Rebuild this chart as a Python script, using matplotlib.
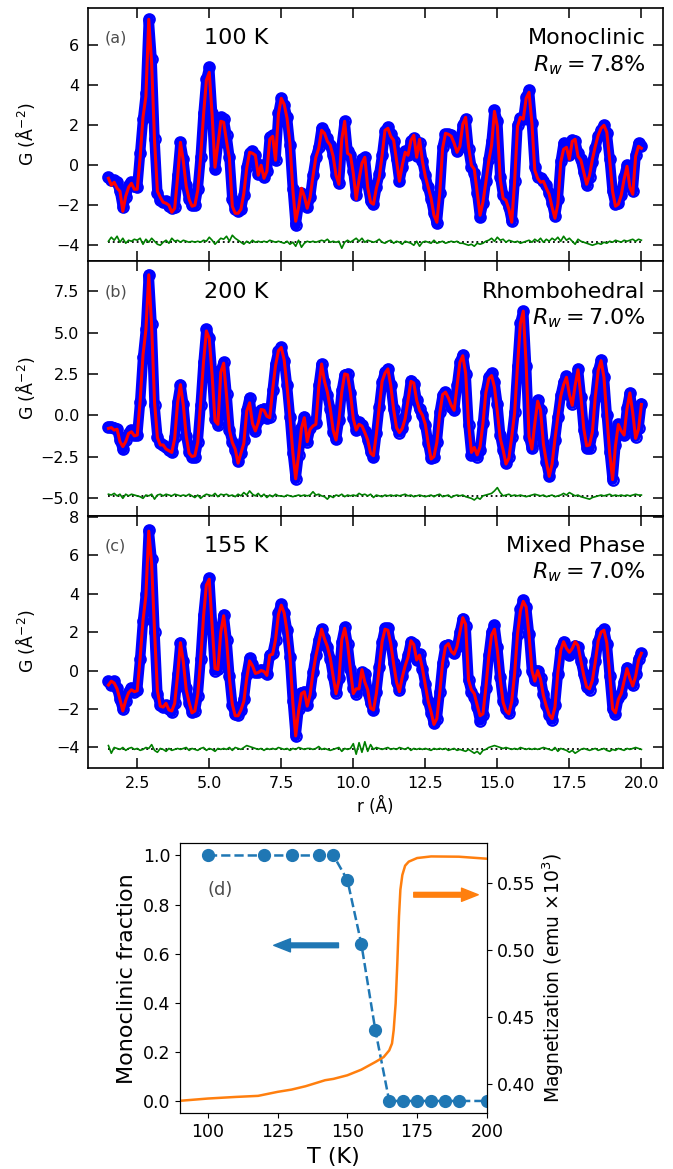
import numpy as np
import matplotlib
matplotlib.use("Agg")
import matplotlib.pyplot as plt

# ---------------------------------------------------------------- PDF data
# r grid (Angstrom), 0.1 A step from 1.5 to 20.0
r = np.round(np.arange(1.5, 20.0001, 0.1), 1)

# observed G(r) at 100 K
g_obs_100K = [
    -0.6, -0.75, -0.75, -0.85, -1.3, -2.1, -1.6, -1.0, -0.85, -1.05,
    -1.1, 0.6, 2.3, 3.6, 7.3, 5.3, 1.3, -1.4, -1.75, -1.85,
    -1.8, -2.05, -2.15, -2.1, -0.5, 1.15, 0.3, -1.0, -1.7, -2.0,
    -2.0, -1.2, 0.4, 2.6, 4.3, 4.9, 2.6, -0.2, 1.1, 2.4,
    2.3, 1.5, 0.4, -1.7, -2.2, -2.3, -2.2, -1.5, -0.1, 0.6,
    0.7, 0.5, -0.45, 0.0, -0.6, -0.3, 1.4, 1.5, 0.25, 2.6,
    3.35, 3.0, 2.4, 1.0, -1.2, -3.0, -2.0, -1.4, -1.6, -2.1,
    -1.6, -0.5, 0.4, 0.9, 1.85, 1.65, 1.35, 1.0, 0.5, -0.5,
    -0.9, 1.0, 2.2, 0.7, 0.5, -0.3, -1.5, -0.65, 0.3, 0.4,
    -1.0, -1.8, -1.95, -1.1, -0.45, 0.5, 1.7, 1.9, 1.55, 1.2,
    0.3, -0.8, -0.1, 0.7, 0.5, 1.2, 1.35, 0.45, 1.1, 0.2,
    -0.5, -1.1, -1.7, -2.4, -2.9, -1.4, 0.9, 1.55, 1.55, 1.5,
    1.1, 0.7, 0.9, 2.0, 2.3, 0.8, -0.1, -0.4, -1.4, -2.6,
    -1.9, -0.8, 0.3, 1.2, 2.75, 2.2, -0.6, -1.5, -1.75, -2.1,
    -2.8, -0.8, 2.0, 2.35, 2.3, 3.4, 3.75, 2.1, -0.1, -0.6,
    -0.65, -0.8, -1.0, -1.4, -1.9, -2.55, -1.7, 0.2, 1.1, 1.0,
    0.5, 1.25, 1.2, 0.6, 0.3, -0.35, -1.0, -0.6, 0.15, 0.85,
    1.45, 1.75, 2.0, 1.6, 0.3, -1.3, -1.95, -1.9, -1.5, -0.6,
    0.0, -1.0, -1.3, 0.5, 1.1, 0.95,
]
# difference G_obs - G_calc at 100 K
diff_100K = [
    0.05, 0.25, 0.1, 0.3, 0.0, 0.2, -0.05, 0.1, 0.05, 0.15,
    0.1, 0.2, -0.1, 0.15, 0.0, 0.2, 0.05, -0.1, -0.15, 0.0,
    0.1, -0.05, 0.2, 0.05, 0.1, 0.0, 0.1, 0.05, 0.0, 0.05,
    0.0, 0.05, 0.0, 0.1, 0.05, 0.25, 0.1, -0.1, 0.05, 0.2,
    0.15, 0.3, 0.05, 0.35, 0.2, 0.1, 0.0, -0.1, 0.05, -0.05,
    0.1, 0.0, 0.05, 0.0, 0.05, 0.0, 0.1, 0.05, 0.0, 0.05,
    0.0, -0.05, 0.05, -0.1, 0.0, -0.2, 0.1, -0.25, -0.05, 0.05,
    0.0, 0.05, 0.0, 0.05, 0.1, 0.05, 0.15, 0.0, 0.05, 0.0,
    0.05, -0.3, 0.0, 0.1, 0.0, 0.1, 0.2, 0.05, 0.2, 0.0,
    0.1, 0.05, 0.0, 0.05, 0.15, 0.0, -0.05, 0.05, 0.1, -0.05,
    0.05, 0.0, -0.1, 0.05, 0.0, -0.05, -0.15, 0.05, -0.2, 0.0,
    0.05, 0.0, -0.05, 0.1, -0.05, 0.0, 0.05, -0.05, 0.0, 0.05,
    0.0, 0.05, -0.05, -0.05, -0.1, -0.15, -0.1, -0.2, -0.05, -0.1,
    -0.05, 0.05, 0.1, 0.2, 0.05, 0.25, 0.1, 0.15, 0.0, 0.1,
    0.05, 0.0, 0.05, -0.05, 0.0, 0.05, 0.1, 0.0, 0.15, 0.05,
    0.2, 0.0, 0.15, 0.05, 0.2, 0.1, 0.25, 0.05, 0.3, 0.1,
    0.2, 0.05, -0.1, 0.15, 0.05, 0.0, -0.05, -0.1, -0.15, -0.1,
    -0.05, -0.1, 0.0, -0.05, 0.05, 0.0, 0.1, 0.05, 0.0, 0.1,
    0.05, 0.1, 0.15, 0.05, 0.15, 0.1,
]

# observed G(r) at 200 K
g_obs_200K = [
    -0.7, -0.7, -0.75, -0.85, -1.5, -2.05, -1.5, -1.1, -0.9, -1.2,
    -1.2, 0.8, 3.5, 5.2, 8.5, 5.5, 0.6, -1.3, -1.7, -1.8,
    -1.95, -2.1, -2.25, -1.3, 0.8, 1.85, 0.65, -1.25, -2.2, -2.5,
    -2.55, -1.6, 0.6, 3.2, 5.2, 4.7, 2.4, -0.2, -0.6, 2.7,
    3.2, 1.3, -0.9, -1.6, -2.1, -2.8, -2.3, -1.5, 0.3, 1.05,
    -0.4, -0.95, -0.3, 0.3, 0.4, -0.16, -0.1, 1.5, 3.1, 3.9,
    4.1, 3.3, 1.8, -0.1, -2.3, -3.85, -2.4, -0.8, -0.1, -1.6,
    -0.8, -0.4, -0.5, 1.8, 3.1, 2.0, 1.2, 0.4, -1.0, -1.45,
    -0.3, 1.5, 2.45, 2.5, 1.35, -0.16, -0.9, -0.4, -0.6, -0.95,
    -1.5, -2.2, -2.55, -1.1, 0.5, 2.0, 2.6, 2.8, 1.85, 0.35,
    -0.7, -1.05, -0.75, -0.1, 0.9, 2.1, 1.9, 0.9, 0.35, 0.0,
    -0.6, -1.7, -2.6, -2.55, -1.6, 0.2, 1.2, 1.4, 1.1, 0.5,
    0.3, 1.8, 3.2, 3.65, 2.5, -0.6, -2.4, -2.2, -2.5, -2.1,
    -0.5, 1.4, 2.3, 2.55, 2.0, 0.7, -1.2, -2.1, -2.9, -2.5,
    -1.3, 0.2, 3.0, 5.6, 6.3, 3.0, -1.3, -2.0, -0.4, 0.9,
    0.3, -1.7, -2.85, -3.7, -2.9, -1.5, -0.1, 1.2, 2.0, 2.35,
    1.45, 0.7, 1.8, 2.8, 1.1, -0.9, -2.0, -2.0, -1.1, 1.05,
    2.7, 3.35, 2.3, 0.0, -2.2, -3.9, -1.8, -0.56, -0.9, -1.2,
    0.44, 1.35, 0.2, -1.3, -0.8, 0.7,
]
diff_200K = [
    0.1, 0.05, 0.15, 0.0, 0.1, -0.15, 0.1, 0.0, 0.1, 0.05,
    0.0, -0.05, -0.15, 0.05, 0.0, 0.1, -0.2, 0.05, 0.1, 0.0,
    0.1, 0.05, 0.0, 0.1, 0.05, 0.0, 0.05, 0.0, 0.1, 0.0,
    -0.1, 0.05, -0.15, 0.0, 0.1, 0.05, 0.0, 0.15, -0.05, 0.1,
    0.05, 0.1, 0.0, 0.05, -0.05, 0.1, 0.0, 0.2, 0.05, 0.3,
    0.1, 0.0, 0.15, -0.05, 0.1, -0.1, 0.05, -0.05, 0.1, 0.0,
    0.0, -0.05, 0.05, 0.0, -0.05, 0.0, 0.05, 0.0, 0.05, 0.0,
    0.05, 0.25, 0.05, 0.1, 0.0, -0.05, -0.2, 0.0, -0.1, 0.05,
    0.0, 0.1, -0.05, 0.05, 0.0, 0.05, 0.0, 0.15, 0.05, 0.1,
    0.0, 0.1, -0.1, 0.05, 0.0, -0.05, 0.05, 0.0, 0.05, 0.0,
    0.05, 0.0, 0.05, 0.1, 0.0, 0.05, -0.05, 0.0, 0.05, 0.0,
    -0.05, 0.0, 0.05, -0.05, 0.05, 0.1, -0.05, 0.0, 0.05, -0.1,
    0.0, 0.05, 0.0, 0.05, -0.05, -0.1, -0.15, -0.25, -0.1, -0.2,
    0.0, 0.05, 0.1, 0.15, 0.3, 0.5, 0.2, 0.0, 0.05, 0.1,
    0.0, 0.05, 0.0, 0.05, 0.0, -0.05, 0.0, 0.05, 0.1, 0.05,
    0.0, 0.05, -0.05, 0.0, 0.05, -0.05, 0.0, 0.05, 0.15, 0.05,
    0.2, 0.1, 0.0, 0.05, -0.05, -0.1, -0.15, -0.2, -0.1, -0.05,
    0.0, 0.05, 0.0, 0.05, 0.1, 0.0, 0.05, 0.0, 0.05, 0.0,
    0.05, 0.0, 0.05, 0.1, 0.05, 0.05,
]

# observed G(r) at 155 K
g_obs_155K = [
    -0.55, -0.75, -0.55, -0.9, -1.5, -2.0, -1.6, -1.1, -0.9, -1.1,
    -1.0, 0.6, 2.6, 4.0, 7.3, 5.8, 2.0, -1.2, -1.8, -1.9,
    -1.8, -2.0, -2.15, -1.7, -0.2, 1.45, 0.5, -0.9, -1.7, -2.15,
    -2.1, -1.3, 0.6, 2.9, 4.4, 4.8, 2.3, 0.0, 0.1, 2.0,
    2.9, 1.6, -0.3, -1.8, -2.25, -2.3, -2.05, -1.5, -0.2, 0.65,
    0.35, -0.1, -0.1, 0.05, -0.1, -0.2, 0.8, 0.9, 1.6, 3.0,
    3.45, 3.0, 2.1, 0.7, -1.6, -3.4, -2.0, -1.15, -1.1, -1.8,
    -1.2, -0.1, 0.8, 1.6, 2.15, 1.7, 1.25, 0.6, -0.3, -1.15,
    -0.4, 1.5, 2.25, 1.4, 0.1, -0.9, -1.2, -0.6, -0.1, -0.2,
    -1.1, -1.7, -2.05, -1.1, 0.2, 1.5, 2.2, 2.2, 1.4, 0.4,
    -0.6, -1.0, -0.3, 0.25, 0.8, 1.5, 1.4, 0.55, 0.85, 0.1,
    -0.7, -1.6, -2.2, -2.75, -2.5, -1.1, 0.4, 1.3, 1.35, 1.0,
    0.9, 1.2, 2.0, 2.7, 2.3, -0.5, -1.1, -1.4, -1.9, -2.6,
    -2.3, -0.9, 0.8, 2.0, 2.35, 1.2, -0.35, -1.6, -2.0, -2.2,
    -1.6, -0.1, 1.9, 3.2, 3.65, 3.3, 1.9, 0.0, -0.5, 0.0,
    -0.4, -1.2, -1.8, -2.3, -2.55, -1.8, -0.2, 1.1, 1.5, 1.1,
    0.8, 1.1, 1.3, 1.2, 0.5, -0.2, -0.85, -1.0, -0.5, 0.5,
    1.5, 2.0, 2.15, 1.4, -0.3, -2.0, -2.25, -1.45, -1.2, -0.6,
    0.15, -0.4, -0.75, -0.2, 0.6, 0.9,
]
diff_155K = [
    0.2, -0.2, 0.1, 0.05, 0.0, 0.1, -0.05, 0.05, 0.1, 0.0,
    0.05, -0.05, 0.0, 0.1, 0.05, 0.25, -0.05, -0.15, 0.05, 0.0,
    -0.1, 0.05, -0.05, 0.0, 0.05, 0.0, 0.05, 0.1, -0.05, 0.05,
    0.0, -0.05, 0.05, 0.1, -0.05, 0.05, 0.0, -0.1, 0.05, 0.0,
    0.05, 0.0, 0.1, -0.05, 0.1, 0.05, 0.0, 0.1, 0.2, 0.15,
    0.1, 0.05, 0.0, 0.05, -0.05, 0.05, 0.0, 0.05, 0.0, 0.1,
    0.05, 0.0, 0.05, -0.05, 0.05, 0.0, 0.1, 0.05, 0.0, 0.05,
    0.05, 0.0, 0.05, 0.15, 0.0, 0.05, 0.0, -0.05, 0.0, 0.05,
    0.1, -0.1, 0.05, 0.0, 0.05, 0.3, -0.25, 0.35, -0.15, 0.4,
    -0.1, 0.25, 0.0, 0.1, 0.05, 0.0, 0.05, 0.1, 0.0, 0.05,
    0.0, 0.1, 0.05, 0.0, 0.1, -0.05, 0.05, 0.0, 0.05, 0.0,
    0.05, 0.0, -0.05, 0.05, 0.0, 0.05, 0.0, 0.05, -0.05, 0.0,
    0.05, -0.05, 0.0, -0.05, -0.1, 0.0, -0.1, -0.2, -0.1, -0.25,
    -0.05, 0.0, 0.1, 0.15, 0.2, 0.15, 0.1, 0.05, 0.1, 0.05,
    0.0, 0.05, 0.0, 0.1, 0.05, 0.0, 0.05, 0.0, 0.05, 0.0,
    0.05, 0.1, 0.05, 0.0, -0.05, 0.1, -0.1, 0.05, 0.0, -0.05,
    -0.15, -0.05, -0.2, -0.1, 0.0, 0.05, 0.0, -0.05, 0.0, 0.05,
    -0.05, 0.0, 0.05, -0.05, -0.1, 0.0, -0.05, 0.05, 0.0, -0.05,
    0.05, 0.0, 0.05, 0.1, 0.05, 0.0,
]

for arr in (g_obs_100K, diff_100K, g_obs_200K, diff_200K, g_obs_155K, diff_155K):
    assert len(arr) == len(r), len(arr)

panel_tags = ["(a)", "(b)", "(c)"]
temperatures = ["100 K", "200 K", "155 K"]
phases = ["Monoclinic", "Rhombohedral", "Mixed Phase"]
rw_values = [7.8, 7.0, 7.0]
diff_offsets = [-3.85, -4.88, -4.1]

# ------------------------------------------- phase fraction / magnetization
T_fit = [100, 120, 130, 140, 145, 150, 155, 160, 165, 170, 175, 180, 185, 190, 200]
mono_fraction = [1.0, 1.0, 1.0, 1.0, 1.0, 0.9, 0.64, 0.29, 0.0, 0.0, 0.0, 0.0, 0.0, 0.0, 0.0]

T_mag = [90, 100, 110, 118, 125, 130, 135, 140, 142, 145, 150, 155, 160, 163,
         165, 166, 166.6, 167.3, 167.9, 168.5, 169.0, 169.7, 170.7, 172, 175,
         180, 190, 200]
magnetization = [0.3871, 0.3888, 0.3900, 0.3908, 0.3938, 0.3955, 0.3980, 0.4012,
                 0.4025, 0.4035, 0.4062, 0.4104, 0.4161, 0.4198, 0.4248, 0.4300,
                 0.4400, 0.4600, 0.4900, 0.5250, 0.5450, 0.5560, 0.5630, 0.5660,
                 0.5687, 0.5699, 0.5697, 0.5682]

# ---------------------------------------------------------------- figure
fig = plt.figure(figsize=(6.73, 11.69), dpi=100)

rects = [
    [0.1303, 0.7767, 0.8544, 0.2167],
    [0.1303, 0.5590, 0.8544, 0.2177],
    [0.1303, 0.3433, 0.8544, 0.2157],
]
ylims = [(-4.79, 7.88), (-6.07, 9.33), (-5.05, 8.06)]
yticks = [np.arange(-4, 7, 2), np.arange(-5.0, 8.0, 2.5), np.arange(-4, 9, 2)]
observed = [g_obs_100K, g_obs_200K, g_obs_155K]
differences = [diff_100K, diff_200K, diff_155K]

for i in range(3):
    ax = fig.add_axes(rects[i])
    g_obs = np.array(observed[i])
    g_diff = np.array(differences[i])
    g_calc = g_obs - g_diff

    # observed data: thick band of open circles
    ax.plot(r, g_obs, color="blue", lw=7.5, solid_joinstyle="round",
            solid_capstyle="round", zorder=2)
    ax.plot(r, g_obs, "o", ms=7.5, mfc="none", mec="blue", mew=1.6, zorder=2)
    # refined model
    ax.plot(r, g_calc, color="red", lw=2.2, zorder=3)
    # difference curve, shifted below the data
    ax.plot(r, diff_offsets[i] + g_diff, color="green", lw=1.2, zorder=3)
    ax.hlines(diff_offsets[i], r[0], r[-1], colors="black", linestyles=":",
              lw=1.3, zorder=2)

    ax.set_xlim(0.78, 20.74)
    ax.set_ylim(*ylims[i])
    ax.set_yticks(yticks[i])
    ax.set_xticks(np.arange(2.5, 20.01, 2.5))
    ax.tick_params(direction="in", length=7, width=1.1, top=True, right=True,
                   labelsize=11.5, pad=6)
    for sp in ax.spines.values():
        sp.set_linewidth(1.2)
    if i < 2:
        ax.tick_params(labelbottom=False)
    else:
        ax.set_xlabel("r (Å)", fontsize=12)

    ax.set_ylabel("G (Å$^{-2}$)", fontsize=12.5)
    ax.yaxis.set_label_coords(-0.088, 0.5)

    ax.text(0.030, 0.88, panel_tags[i], transform=ax.transAxes, fontsize=11.5,
            color="0.3", va="center", ha="left")
    ax.text(0.202, 0.88, temperatures[i], transform=ax.transAxes, fontsize=16,
            va="center", ha="left")
    ax.text(0.970, 0.88, phases[i], transform=ax.transAxes, fontsize=16,
            va="center", ha="right")
    ax.text(0.970, 0.775, r"$R_w = %.1f\%%$" % rw_values[i],
            transform=ax.transAxes, fontsize=16, va="center", ha="right")

# ------------------------------------------------------------ panel (d)
axd = fig.add_axes([0.2675, 0.0477, 0.4559, 0.231])
axd.plot(T_fit, mono_fraction, "o--", color="#1f77b4", ms=8.5, lw=1.8)
axd.set_xlim(90, 200)
axd.set_ylim(-0.05, 1.05)
axd.set_xticks([100, 125, 150, 175, 200])
axd.set_yticks(np.arange(0.0, 1.01, 0.2))
axd.tick_params(labelsize=12.5)
axd.set_xlabel("T (K)", fontsize=16)
axd.set_ylabel("Monoclinic fraction", fontsize=16)

axm = axd.twinx()
axm.plot(T_mag, magnetization, color="#ff7f0e", lw=1.8)
axm.set_ylim(0.3778, 0.5798)
axm.set_yticks([0.40, 0.45, 0.50, 0.55])
axm.tick_params(labelsize=12.5)
axm.set_ylabel("Magnetization (emu $\\times10^3$)", fontsize=13.5)

axd.text(99.7, 0.858, "(d)", fontsize=13, color="0.3", va="center", ha="left")
arrow_style = "simple,head_length=1.2,head_width=0.95,tail_width=0.34"
axd.annotate("", xy=(123.6, 0.634), xytext=(146.8, 0.634),
             arrowprops=dict(arrowstyle=arrow_style, color="#1f77b4",
                             mutation_scale=10, shrinkA=0, shrinkB=0))
axd.annotate("", xy=(196.9, 0.84), xytext=(173.8, 0.84),
             arrowprops=dict(arrowstyle=arrow_style, color="#ff7f0e",
                             mutation_scale=10, shrinkA=0, shrinkB=0))

fig.savefig("out.png", dpi=100)
